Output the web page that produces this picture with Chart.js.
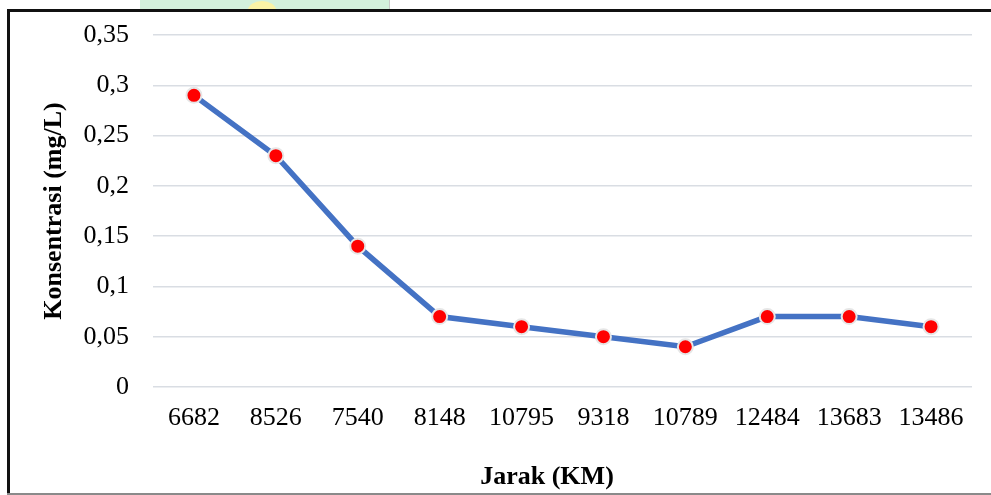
<!DOCTYPE html>
<html>
<head>
<meta charset="utf-8">
<script src="https://cdn.jsdelivr.net/npm/chart.js@4/dist/chart.umd.min.js"></script>
<style>
  html, body { margin: 0; padding: 0; background: #ffffff; }
  #wrap { position: relative; width: 991px; height: 495px; }
  canvas { display: block; }
</style>
</head>
<body>
<div id="wrap"><canvas id="c" width="991" height="495"></canvas></div>
<script>
// Distance (km) categories and measured concentration (mg/L)
const jarak = ['6682', '8526', '7540', '8148', '10795', '9318', '10789', '12484', '13683', '13486'];
const konsentrasi = [0.29, 0.23, 0.14, 0.07, 0.06, 0.05, 0.04, 0.07, 0.07, 0.06];
const yTicks = [0, 0.05, 0.1, 0.15, 0.2, 0.25, 0.3, 0.35];

const serif = '"Liberation Serif", "Times New Roman", serif';

// Background emblem band above the frame, frame lines and x-axis title
const framePlugin = {
  id: 'frame',
  beforeDraw(chart) {
    const ctx = chart.ctx;
    ctx.save();
    ctx.fillStyle = '#d3f0dc';
    ctx.fillRect(140, 0, 250, 10);
    ctx.fillStyle = '#fbf3a6';
    ctx.beginPath();
    ctx.ellipse(262, 10, 14, 9, 0, Math.PI, 2 * Math.PI);
    ctx.fill();
    ctx.fillStyle = '#c9c9c9';
    ctx.fillRect(389, 0, 1, 10);
    ctx.restore();
  },
  afterDraw(chart) {
    const ctx = chart.ctx;
    ctx.save();
    ctx.fillStyle = '#111111';
    ctx.fillRect(7, 9, 3, 486);
    ctx.fillRect(7, 9, 984, 3);
    ctx.fillStyle = '#8a8a8a';
    ctx.fillRect(7, 493, 984, 2);
    ctx.fillStyle = '#000000';
    ctx.font = 'bold 26px ' + serif;
    ctx.textAlign = 'center';
    ctx.textBaseline = 'middle';
    ctx.fillText('Jarak (KM)', 547, 477);
    ctx.restore();
  }
};

new Chart(document.getElementById('c'), {
  type: 'line',
  data: {
    labels: jarak,
    datasets: [{
      data: konsentrasi,
      borderColor: '#4472C4',
      borderWidth: 5.5,
      pointRadius: 7.5,
      pointBackgroundColor: '#ff0000',
      pointBorderColor: '#e6e6e6',
      pointBorderWidth: 2,
      tension: 0,
      clip: false
    }]
  },
  options: {
    responsive: false,
    animation: false,
    devicePixelRatio: 1,
    layout: { padding: { left: 20, right: 19, top: 35, bottom: 0 } },
    plugins: { legend: { display: false }, tooltip: { enabled: false } },
    scales: {
      x: {
        offset: true,
        grid: { display: false, drawTicks: false },
        border: { display: false },
        ticks: { color: '#000', font: { family: serif, size: 26 }, padding: 16, maxRotation: 0 },
        afterFit(scale) { scale.height = 108; }
      },
      y: {
        min: 0,
        max: 0.35,
        afterBuildTicks(scale) { scale.ticks = yTicks.map(v => ({ value: v })); },
        grid: { color: '#d9dde3', lineWidth: 1.5, drawTicks: false },
        border: { display: false },
        ticks: {
          color: '#000',
          font: { family: serif, size: 26 },
          padding: 24,
          callback: v => String(v).replace('.', ',')
        },
        title: {
          display: true,
          text: 'Konsentrasi (mg/L)',
          color: '#000',
          font: { family: serif, size: 26, weight: 'bold' },
          padding: { top: 19, bottom: 0 }
        },
        afterFit(scale) {
          scale.width = 133;
          scale.paddingTop = 0;
          scale.paddingBottom = 0;
        }
      }
    }
  },
  plugins: [framePlugin]
});
</script>
</body>
</html>
